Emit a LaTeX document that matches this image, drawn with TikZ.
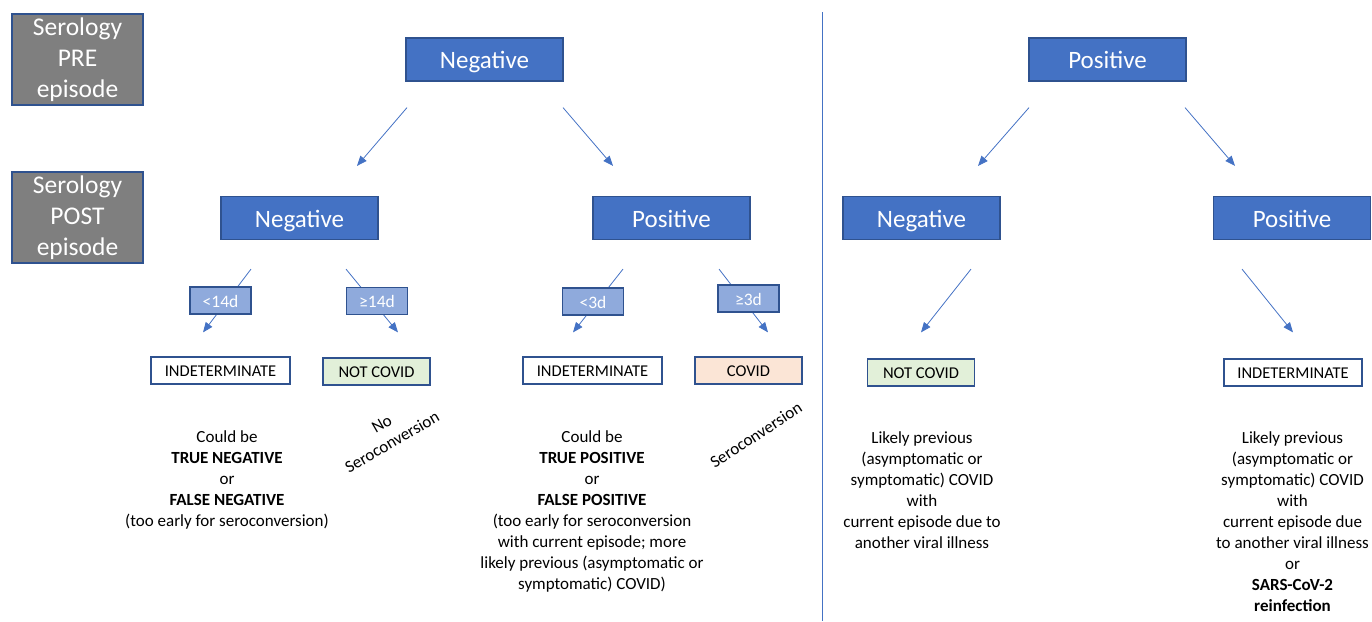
\documentclass[tikz,border=0pt]{standalone}
\usepackage{fontspec}
\setmainfont{Carlito}
\usetikzlibrary{arrows.meta,calc}
\definecolor{cBlue} {RGB}{68,  114, 196}
\definecolor{cEdge} {RGB}{47,  82,  143}
\definecolor{cGrey} {RGB}{127, 127, 127}
\definecolor{cLight}{RGB}{143, 170, 220}
\definecolor{cGreen}{RGB}{226, 240, 217}
\definecolor{cPeach}{RGB}{251, 229, 214}
\tikzset{
  B/.style     = {draw=cEdge, line width=1.2pt, inner sep=0pt, text centered},
  hdrB/.style  = {B, fill=cGrey, text=white, align=center,
                  minimum width=131pt, minimum height=91pt,
                  font=\fontsize{25.5pt}{31pt}\selectfont},
  lvlB/.style  = {B, fill=cBlue, text=white, minimum width=157pt,
                  minimum height=43pt, text height=20pt, text depth=2pt,
                  font=\fontsize{25pt}{30pt}\selectfont},
  dayB/.style  = {B, fill=cLight, text=white, minimum width=61pt,
                  minimum height=27pt, text height=14.5pt, text depth=1pt,
                  font=\fontsize{17.5pt}{20pt}\selectfont},
  outB/.style  = {B, fill=white, text=black, minimum height=27pt,
                  text height=13.5pt, text depth=2pt,
                  font=\fontsize{16.5pt}{20pt}\selectfont},
  indB/.style  = {outB, minimum width=139pt},
  ncB/.style   = {outB, fill=cGreen, minimum width=107pt},
  covB/.style  = {outB, fill=cPeach, minimum width=107pt},
  note/.style  = {align=center, inner sep=0pt, text=black,
                  font=\fontsize{17pt}{21pt}\selectfont},
  A/.style     = {-{Triangle[length=10pt,width=8pt]}, draw=cBlue, line width=0.8pt},
}

\begin{document}
\begin{tikzpicture}[x=1pt, y=-1pt]
\useasboundingbox (0,0) rectangle (1372,621);

%% ─── Row labels ──────────────────────────────────────────────────
\node[hdrB] (pre)  at (77.5, 59.5)  {Serology\\PRE\\episode};
\node[hdrB] (post) at (77.5, 217.5) {Serology\\POST\\episode};

%% ─── Divider ─────────────────────────────────────────────────────
\draw[cBlue, line width=1pt] (822,12) -- (822,621);

%% ════════════════════════════════════════════
%%  LEFT: serology PRE negative
%% ════════════════════════════════════════════
\node[lvlB] (preneg)   at (484.5, 59.5) {Negative};
\node[lvlB] (postnegA) at (299.5, 218)  {Negative};
\node[lvlB] (postposA) at (671.5, 218)  {Positive};

\node[indB] (indA)  at (220.5, 370.5) {INDETERMINATE};
\node[ncB]  (ncA)   at (376.5, 371.5) {NOT COVID};
\node[indB] (indB)  at (592.5, 370.5) {INDETERMINATE};
\node[covB] (covid) at (748.5, 370.5) {COVID};

\draw[A] ($(preneg.south)+(-77.5,26)$) -- ($(postnegA.north)+(57.5,-30)$);
\draw[A] ($(preneg.south)+(78.5,26)$)  -- ($(postposA.north)+(-58.5,-30)$);

\draw[A] ($(postnegA.south)+(-48.5,29)$) -- ($(indA.north)+(-17.5,-24)$);
\draw[A] ($(postnegA.south)+(46.5,29)$)  -- ($(ncA.north)+(21.5,-25)$);
\draw[A] ($(postposA.south)+(-48.5,29)$) -- ($(indB.north)+(-19.5,-24)$);
\draw[A] ($(postposA.south)+(47.5,29)$)  -- ($(covid.north)+(19.5,-24)$);

%% day thresholds (on top of the arrows)
\node[dayB] (lt14) at (220.5, 300.5) {<14d};
\node[dayB] (ge14) at (377, 301)     {≥14d};
\node[dayB] (lt3)  at (593, 301.5)   {<3d};
\node[dayB] (ge3)  at (748.5, 298.5) {≥3d};

%% notes
\node[note, anchor=north] (txtA) at (227, 430)
  {Could be\\\textbf{TRUE NEGATIVE}\\or\\\textbf{FALSE NEGATIVE}\\
   (too early for seroconversion)};
\node[note, rotate=30] (txtNo) at (387, 433) {No\\Seroconversion};
\node[note, anchor=north] (txtB) at (592, 430)
  {Could be\\\textbf{TRUE POSITIVE}\\or\\\textbf{FALSE POSITIVE}\\
   (too early for seroconversion\\with current episode; more\\
   likely previous (asymptomatic or\\symptomatic) COVID)};
\node[note, rotate=33] (txtSero) at (756, 435) {Seroconversion};

%% ════════════════════════════════════════════
%%  RIGHT: serology PRE positive
%% ════════════════════════════════════════════
\node[lvlB] (prepos)   at (1107.5, 59.5) {Positive};
\node[lvlB] (postnegB) at (921.5, 218)   {Negative};
\node[lvlB] (postposB) at (1292, 218)    {Positive};

\node[ncB]  (ncB)  at (921, 372.5)  {NOT COVID};
\node[indB, minimum width=138pt] (indC) at (1293, 372.5) {INDETERMINATE};

\draw[A] ($(prepos.south)+(-78.5,26)$) -- ($(postnegB.north)+(56.5,-30)$);
\draw[A] ($(prepos.south)+(77.5,26)$)  -- ($(postposB.north)+(-57,-30)$);

\draw[A] ($(postnegB.south)+(49.5,29)$) -- ($(ncB.north)+(0,-26)$);
\draw[A] ($(postposB.south)+(-50,29)$)  -- ($(indC.north)+(0,-26)$);

\node[note, anchor=north] (txtC) at (922, 431)
  {Likely previous\\(asymptomatic or\\symptomatic) COVID\\with\\
   current episode due to\\another viral illness};
\node[note, anchor=north] (txtD) at (1292.5, 431)
  {Likely previous\\(asymptomatic or\\symptomatic) COVID\\with\\
   current episode due\\to another viral illness\\or\\
   \textbf{SARS-CoV-2}\\\textbf{reinfection}};

\end{tikzpicture}
\end{document}
